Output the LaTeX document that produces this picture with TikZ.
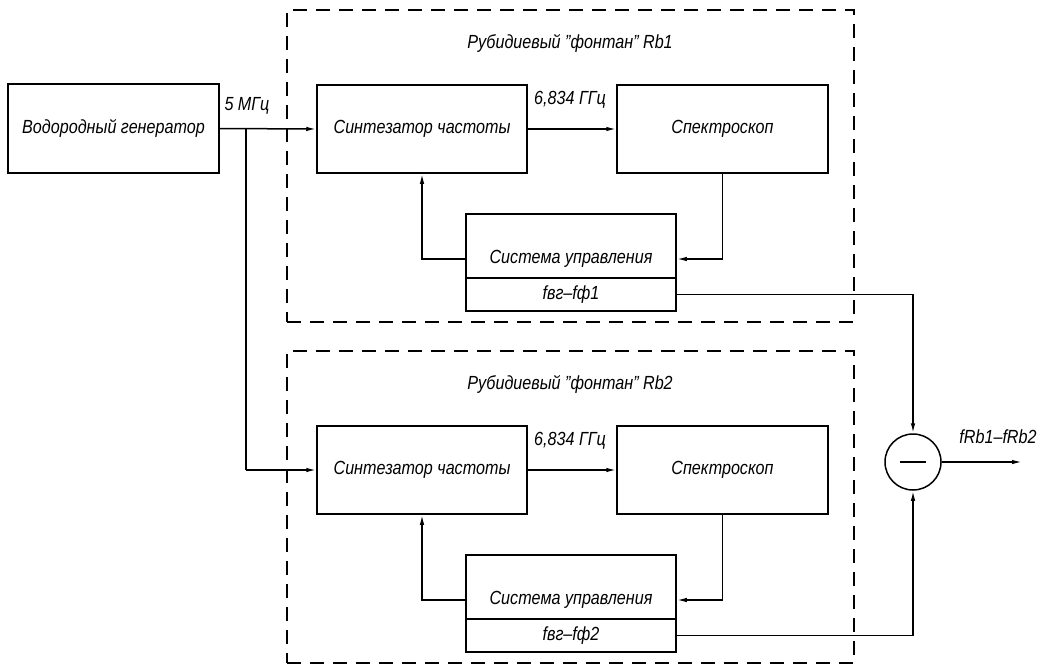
\documentclass[tikz,border=0pt]{standalone}
\usepackage{fontspec}
\setmainfont{Liberation Sans}[FakeStretch=0.85]
\usetikzlibrary{arrows.meta}
\newcommand{\sq}{\symbol{34}}
\begin{document}
\begin{tikzpicture}[x=1pt,y=-1pt,
  blk/.style={draw, line width=1.5pt, inner sep=0pt, font=\fontsize{19}{22}\selectfont\itshape},
  lbl/.style={font=\fontsize{19}{22}\selectfont\itshape, inner sep=0pt},
  wire/.style={line width=1.5pt},
  arr/.style={wire, -{Latex[length=10pt,width=4.5pt]}},
  frame/.style={draw, line width=1.5pt, dash pattern=on 14pt off 9pt, inner sep=0pt}]
\useasboundingbox (0,0) rectangle (1048,664);

% dashed frames
\node[frame, minimum width=567pt, minimum height=312pt] (fr1) at (570.5,166) {};
\node[frame, minimum width=567pt, minimum height=312pt] (fr2) at (570.5,507) {};
\node[lbl] (t1) at (570,43) {Рубидиевый \sq фонтан\sq{} Rb1};
\node[lbl] (t2) at (570,384) {Рубидиевый \sq фонтан\sq{} Rb2};

% generator
\node[blk, minimum width=211pt, minimum height=89pt] (gen) at (113.5,128.5) {Водородный генератор};
\node[lbl] (f5) at (247,106) {5 МГц};

% section 1
\node[blk, minimum width=210pt, minimum height=88pt] (synth1) at (422,129) {Синтезатор частоты};
\node[blk, minimum width=211pt, minimum height=88pt] (spec1) at (722.5,129) {Спектроскоп};
\node[lbl] (g1) at (570,100) {6,834 ГГц};
\node[blk, minimum width=210pt, minimum height=64pt] (ctrl1) at (571,246) {};
\node[blk, minimum width=210pt, minimum height=33pt] (ctrlb1) at (571,294.5) {fвг–fф1};
\node[lbl] (ct1) at (571,259) {Система управления};

% section 2
\node[blk, minimum width=210pt, minimum height=88pt] (synth2) at (422,470) {Синтезатор частоты};
\node[blk, minimum width=211pt, minimum height=88pt] (spec2) at (722.5,470) {Спектроскоп};
\node[lbl] (g2) at (570,441) {6,834 ГГц};
\node[blk, minimum width=210pt, minimum height=64pt] (ctrl2) at (571,587) {};
\node[blk, minimum width=210pt, minimum height=33pt] (ctrlb2) at (571,635.5) {fвг–fф2};
\node[lbl] (ct2) at (571,600) {Система управления};

% subtractor
\node[draw, circle, line width=1.5pt, minimum size=56pt, inner sep=0pt] (sub) at (913,462) {};
\coordinate (out) at (1022,462);
\node[lbl] (fo) at (998,437) {fRb1–fRb2};

% connectors
\coordinate (j1) at (246,128.5);
\coordinate (j2) at (246,470);
\draw[arr] (gen.east) -- (synth1.west);
\draw[wire] (j1) -- (j2);
\draw[arr] (j2) -- (synth2.west);

\draw[arr] (synth1.east) -- (spec1.west);
\draw[arr] (spec1.south) |- (ct1 -| ctrl1.east);
\draw[arr] (ct1 -| ctrl1.west) -| (synth1.south);

\draw[arr] (synth2.east) -- (spec2.west);
\draw[arr] (spec2.south) |- (ct2 -| ctrl2.east);
\draw[arr] (ct2 -| ctrl2.west) -| (synth2.south);

\draw[arr] (ctrlb1.east) -| (sub.north);
\draw[arr] (ctrlb2.east) -| (sub.south);
\draw[arr] (sub.east) -- (out);
\draw[wire] ([xshift=-13pt]sub.center) -- ([xshift=13pt]sub.center);
\end{tikzpicture}
\end{document}
